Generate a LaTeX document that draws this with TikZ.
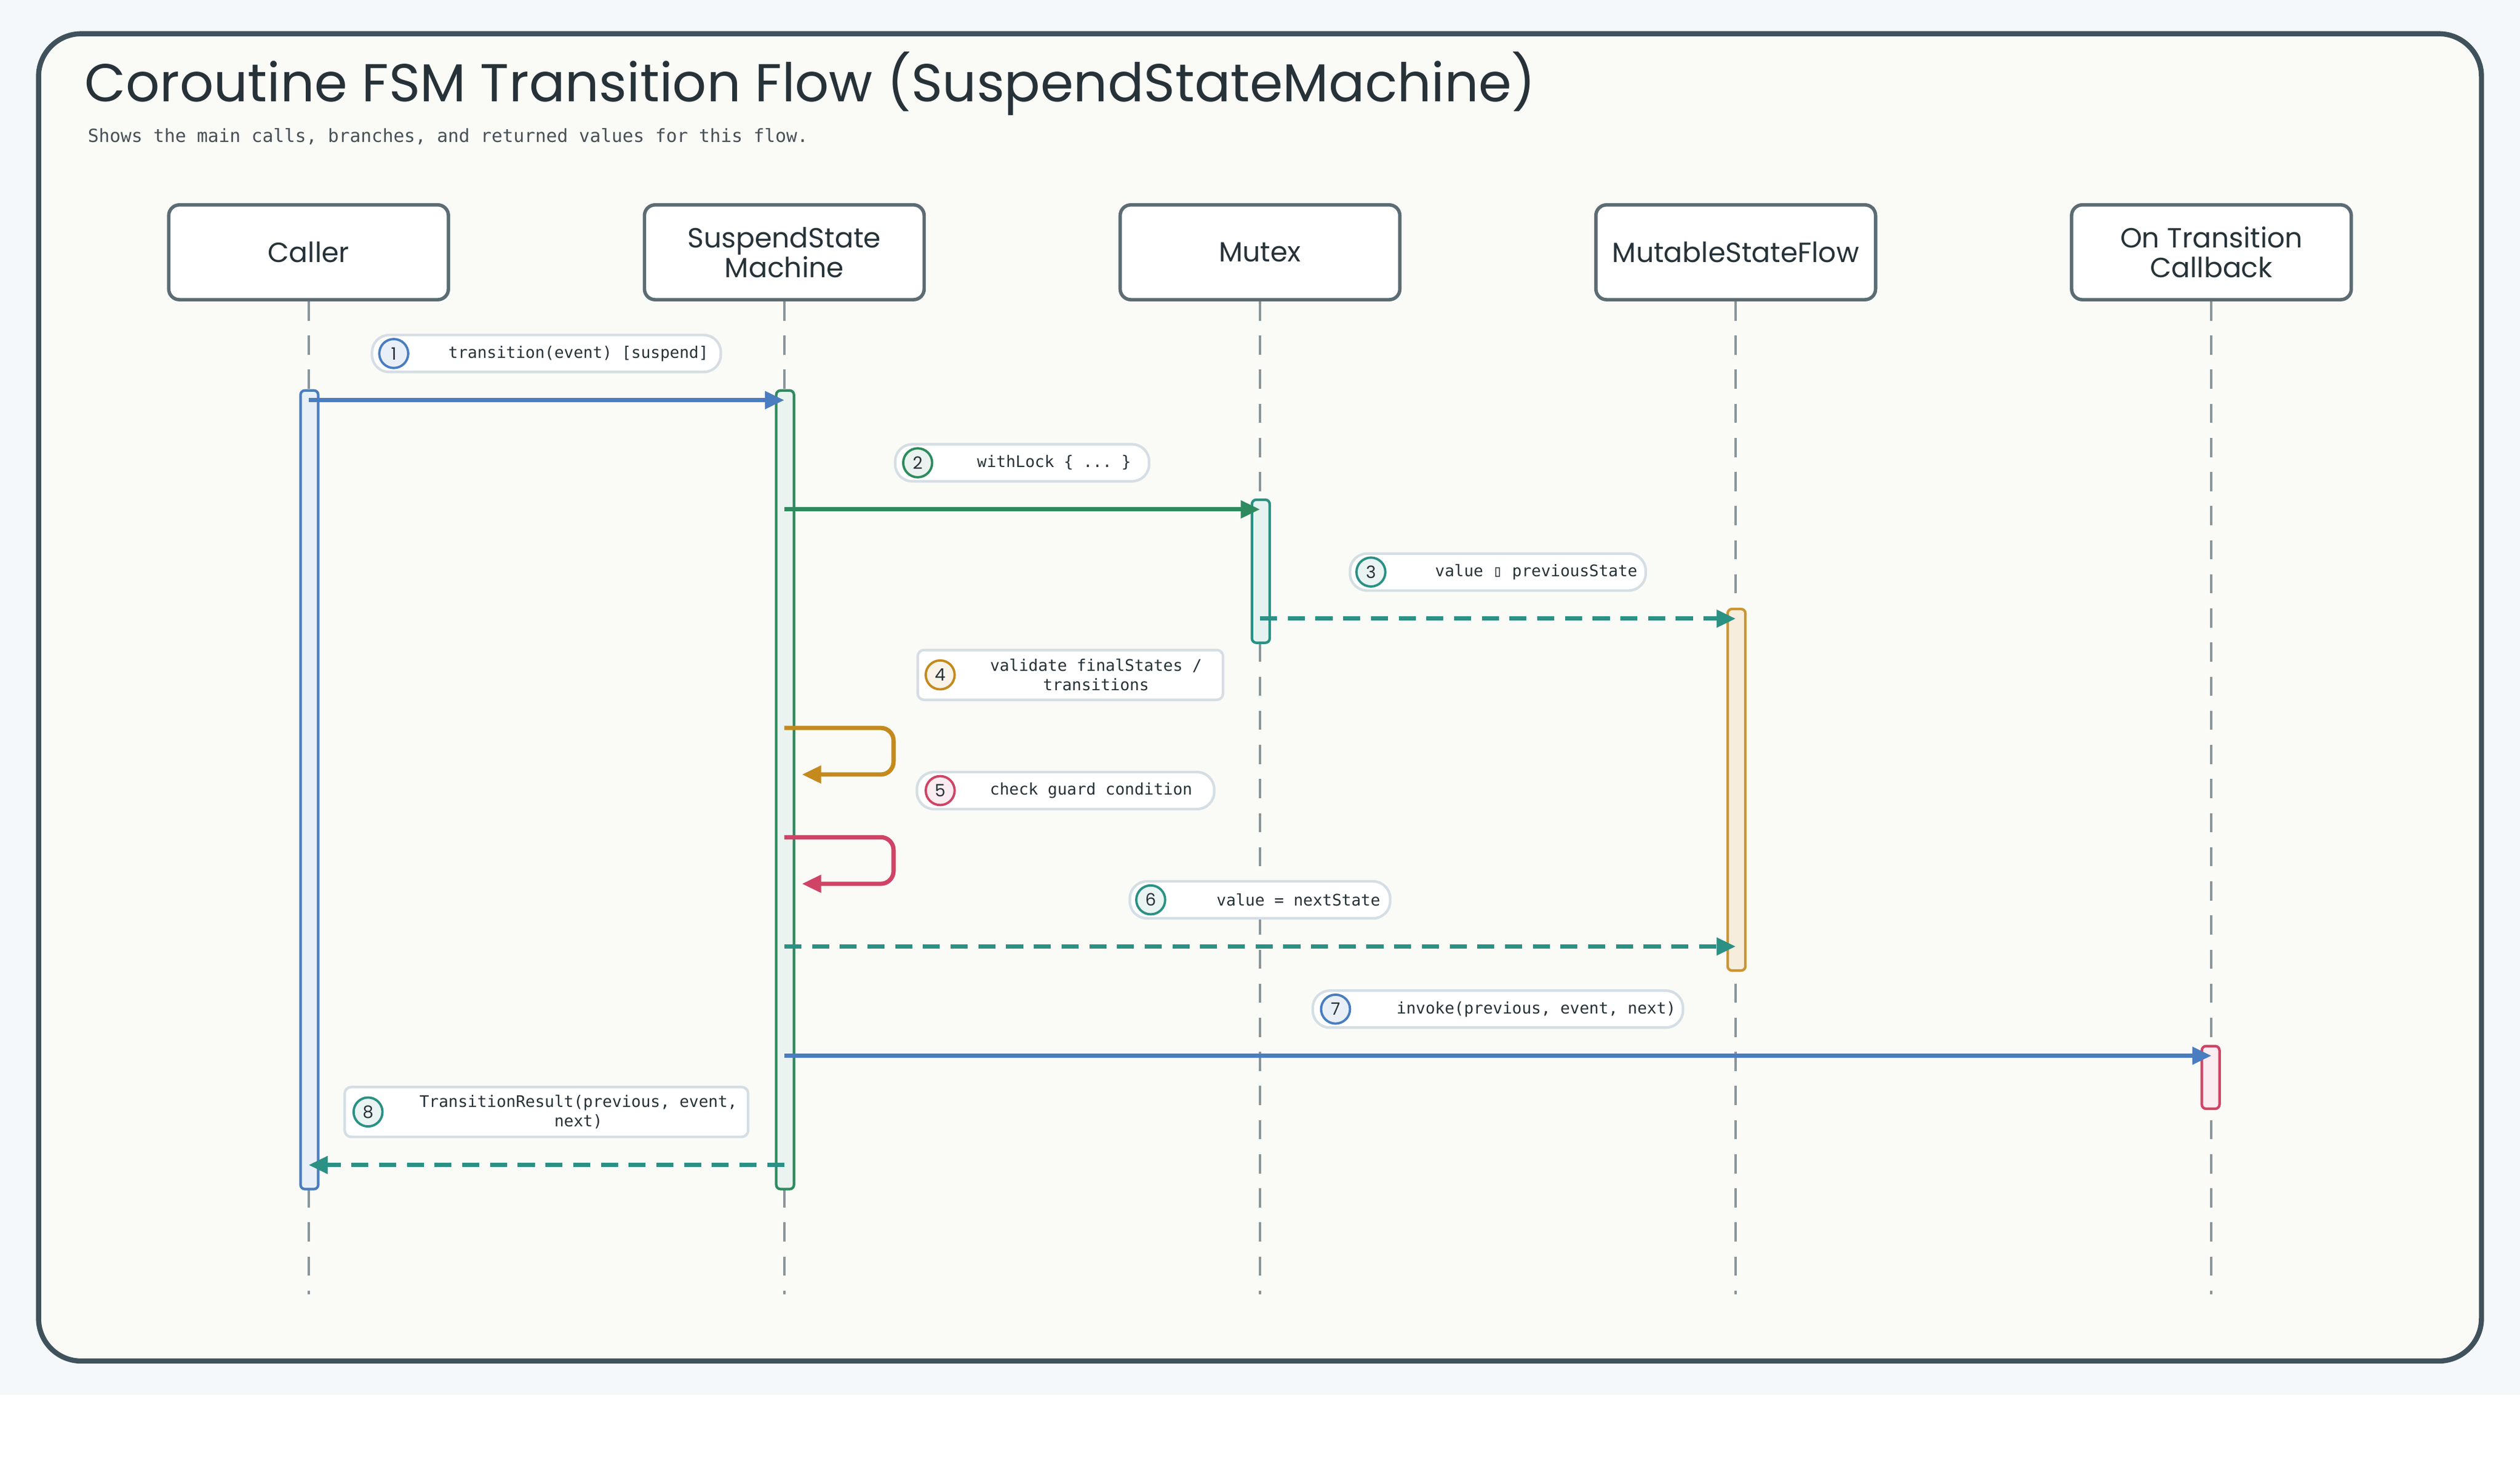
\documentclass[tikz,border=0pt]{standalone}
\usepackage{fontspec}
\setmainfont{Poppins}
\setmonofont{DejaVu Sans Mono}
\usepackage{xcolor}
\usetikzlibrary{arrows.meta, positioning}

\definecolor{pagebg}{HTML}{F5F8FA}
\definecolor{cardbg}{HTML}{FAFAF7}
\definecolor{frame}{HTML}{3F525C}
\definecolor{ink}{HTML}{263238}
\definecolor{life}{HTML}{8A969C}
\definecolor{pill}{HTML}{D5DEE4}
\definecolor{cblue}{HTML}{4A7DBF}
\definecolor{cgreen}{HTML}{2E8B5E}
\definecolor{cteal}{HTML}{2A9184}
\definecolor{corange}{HTML}{C48A1E}
\definecolor{cred}{HTML}{CF4466}

\tikzset{
  actor/.style={draw=frame!85, line width=1.6pt, rounded corners=5pt, fill=white,
    minimum width=174*0.02649cm, minimum height=59*0.02649cm, align=center,
    font=\fontsize{13}{14}\selectfont, text=ink},
  lifeline/.style={draw=life, line width=1.1pt, dash pattern=on 9pt off 7pt},
  actbar/.style={line width=1.2pt, rounded corners=2pt},
  label/.style={draw=pill, line width=1.2pt, fill=white, rounded corners=8pt,
    minimum height=23*0.02649cm, font=\ttfamily\fontsize{7.5}{9}\selectfont, text=ink, align=center},
  stepnum/.style={circle, line width=1.1pt, minimum size=18*0.02649cm, inner sep=0pt,
    font=\fontsize{8}{8}\selectfont, text=ink},
  call/.style={line width=2pt, -{Triangle[length=9pt,width=8pt]}},
  reply/.style={call, dash pattern=on 8pt off 5pt},
}

\begin{document}
\begin{tikzpicture}[x=0.02649cm, y=-0.02649cm]
\useasboundingbox (0,0) rectangle (1568,912);
\fill[white] (0,0) rectangle (1568,912);
\fill[pagebg] (0,0) rectangle (1568,868);
\draw[frame, line width=2.4pt, fill=cardbg, rounded corners=20pt] (24,21) rectangle (1544,847);

\node[anchor=west, font=\fontsize{25}{25}\selectfont, text=ink] (title) at (48,52)
  {Coroutine FSM Transition Flow (SuspendStateMachine)};
\node[anchor=west, font=\ttfamily\fontsize{8.5}{9}\selectfont, text=ink!85] (subtitle) at (50,85)
  {Shows the main calls, branches, and returned values for this flow.};

% participants
\node[actor] (caller) at (192,157) {Caller};
\node[actor] (ssm) at (488,157) {SuspendState\\Machine};
\node[actor] (mutex) at (784,157) {Mutex};
\node[actor] (msf) at (1080,157) {MutableStateFlow};
\node[actor] (cb) at (1376,157) {On Transition\\Callback};

\foreach \p in {caller, ssm, mutex, msf, cb}
  \draw[lifeline] (\p.south) -- ++(0,618);

% activation bars
\draw[actbar, draw=cblue, fill=cblue!12] (187,243) rectangle (198,740);
\draw[actbar, draw=cgreen, fill=cgreen!10] (483,243) rectangle (494,740);
\draw[actbar, draw=cteal, fill=cteal!12] (779,311) rectangle (790,400);
\draw[actbar, draw=corange!90, fill=corange!15] (1075,379) rectangle (1086,604);
\draw[actbar, draw=cred, fill=cred!10] (1370,651) rectangle (1381,690);

% message labels
\node[label, minimum width=217*0.02649cm] (l1) at (340,220) {\hspace{30pt}transition(event) [suspend]};
\node[stepnum, draw=cblue, fill=cblue!12] (n1) at (245,220) {1};
\node[label, minimum width=158*0.02649cm] (l2) at (636,288) {\hspace{30pt}withLock \{ ... \}};
\node[stepnum, draw=cgreen, fill=cgreen!10] (n2) at (571,288) {2};
\node[label, minimum width=184*0.02649cm] (l3) at (932,356) {\hspace{36pt}value ▯ previousState};
\node[stepnum, draw=cteal, fill=cteal!10] (n3) at (853,356) {3};
\node[label, rounded corners=3pt, minimum width=190*0.02649cm, minimum height=31*0.02649cm] (l4) at (666,420)
  {\hspace{24pt}validate finalStates /\\\hspace{24pt}transitions};
\node[stepnum, draw=corange, fill=corange!10] (n4) at (585,420) {4};
\node[label, minimum width=185*0.02649cm] (l5) at (663,492) {\hspace{24pt}check guard condition};
\node[stepnum, draw=cred, fill=cred!10] (n5) at (585,492) {5};
\node[label, minimum width=162*0.02649cm] (l6) at (784,560) {\hspace{36pt}value = nextState};
\node[stepnum, draw=cteal, fill=cteal!10] (n6) at (716,560) {6};
\node[label, minimum width=228*0.02649cm] (l7) at (932,628) {\hspace{36pt}invoke(previous, event, next)};
\node[stepnum, draw=cblue, fill=cblue!12] (n7) at (831,628) {7};
\node[label, rounded corners=3pt, minimum width=251*0.02649cm, minimum height=31*0.02649cm] (l8) at (340,692)
  {\hspace{30pt}TransitionResult(previous, event,\\\hspace{30pt}next)};
\node[stepnum, draw=cteal, fill=cteal!10] (n8) at (229,692) {8};

% messages
\coordinate (c1) at (192,249); \coordinate (s1) at (488,249);
\coordinate (s2) at (488,317); \coordinate (m2) at (784,317);
\coordinate (m3) at (784,385); \coordinate (f3) at (1080,385);
\coordinate (s4) at (488,453); \coordinate (s4e) at (499,482);
\coordinate (s5) at (488,521); \coordinate (s5e) at (499,550);
\coordinate (s6) at (488,589); \coordinate (f6) at (1080,589);
\coordinate (s7) at (488,657); \coordinate (k7) at (1376,657);
\coordinate (s8) at (488,725); \coordinate (c8) at (192,725);

\draw[call, cblue] (c1) -- (s1);
\draw[call, cgreen] (s2) -- (m2);
\draw[reply, cteal] (m3) -- (f3);
\draw[call, corange, rounded corners=6pt] (s4) -- (556,453) -- (556,482) -- (s4e);
\draw[call, cred, rounded corners=6pt] (s5) -- (556,521) -- (556,550) -- (s5e);
\draw[reply, cteal] (s6) -- (f6);
\draw[call, cblue] (s7) -- (k7);
\draw[reply, cteal] (s8) -- (c8);
\end{tikzpicture}
\end{document}
